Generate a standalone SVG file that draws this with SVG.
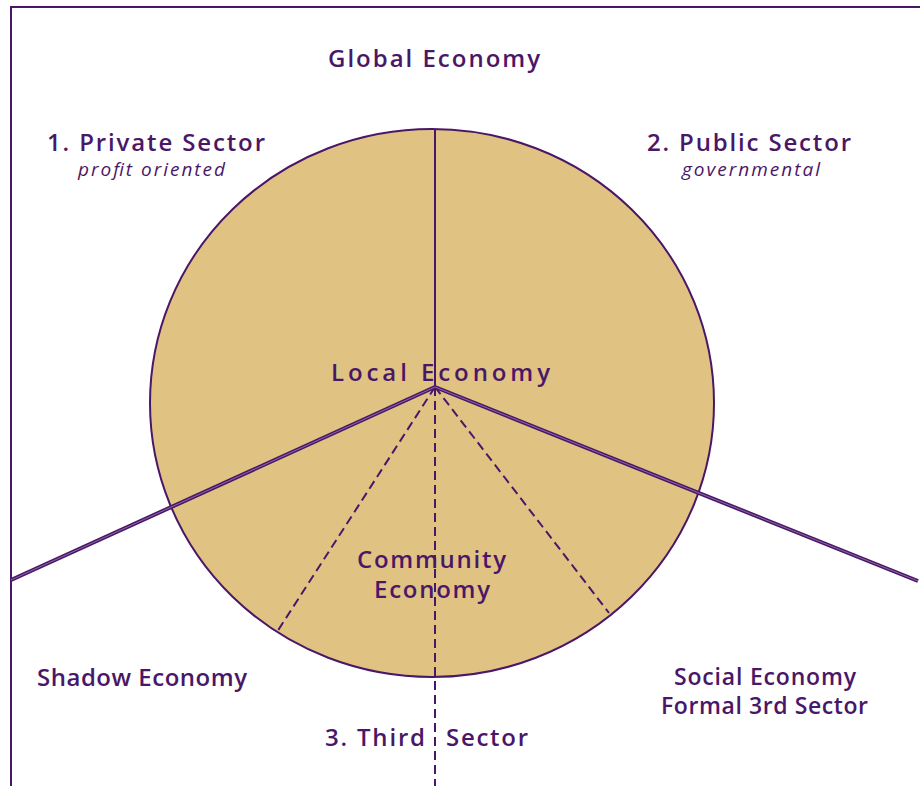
<svg xmlns="http://www.w3.org/2000/svg" width="920" height="786" viewBox="0 0 920 786">
<style>
.t{font-family:"Open Sans","Noto Sans","Liberation Sans",sans-serif;font-weight:600;fill:#4a1768;font-size:24px}
.s{font-size:23px}
.i{font-family:"Open Sans","Noto Sans","Liberation Sans",sans-serif;font-style:italic;fill:#4a1768;font-size:19px}
.solid{stroke:#4a1768;stroke-width:2;fill:none}
.dbl{stroke:#4a1768;stroke-width:4;fill:none}
.dblin{stroke:#8c6aa6;stroke-width:1;fill:none}
.dash{stroke:#4a1768;stroke-width:2;fill:none;stroke-dasharray:9 5}
</style>
<rect width="920" height="786" fill="#ffffff"/>
<g id="frame">
<polyline class="solid" points="11,786 11,7 920,7" stroke-width="3"/>
</g>
<g id="circle">
<ellipse cx="432" cy="403" rx="282" ry="274" fill="#e0c383" stroke="#4a1768" stroke-width="2"/>
</g>
<g id="connectors">
<line class="solid" x1="435" y1="129" x2="435" y2="387"/>
<line class="dash" x1="435" y1="387" x2="435" y2="786"/>
<line class="dash" x1="435" y1="387" x2="277" y2="632"/>
<line class="dash" x1="435" y1="387" x2="609" y2="613"/>
<line class="dbl" x1="435" y1="387" x2="11" y2="580"/>
<line class="dblin" x1="435" y1="387" x2="11" y2="580"/>
<line class="dbl" x1="435" y1="387" x2="918" y2="581"/>
<line class="dblin" x1="435" y1="387" x2="918" y2="581"/>
</g>
<g id="global"><text class="t" x="328" y="67" textLength="212" lengthAdjust="spacing">Global Economy</text></g>
<g id="private">
<text class="t" x="47" y="151" textLength="218" lengthAdjust="spacing">1. Private Sector</text>
<text class="i" x="78" y="176" textLength="147" lengthAdjust="spacing">profit oriented</text>
</g>
<g id="public">
<text class="t" x="647" y="151" textLength="204" lengthAdjust="spacing">2. Public Sector</text>
<text class="i" x="682" y="176" textLength="138" lengthAdjust="spacing">governmental</text>
</g>
<g id="local"><text class="t" x="331" y="381" textLength="219" lengthAdjust="spacing">Local Economy</text></g>
<g id="community">
<text class="t" x="357" y="568" textLength="149" lengthAdjust="spacing">Community</text>
<text class="t" x="374" y="598" textLength="116" lengthAdjust="spacing">Economy</text>
</g>
<g id="shadow"><text class="t" x="37" y="686" textLength="210" lengthAdjust="spacing">Shadow Economy</text></g>
<g id="social">
<text class="t s" x="674" y="685" textLength="182" lengthAdjust="spacing">Social Economy</text>
<text class="t s" x="661" y="714" textLength="207" lengthAdjust="spacing">Formal 3rd Sector</text>
</g>
<g id="third">
<text class="t" y="746"><tspan x="325" textLength="100" lengthAdjust="spacing">3. Third</tspan><tspan x="446" textLength="82" lengthAdjust="spacing">Sector</tspan></text>
</g>
</svg>
